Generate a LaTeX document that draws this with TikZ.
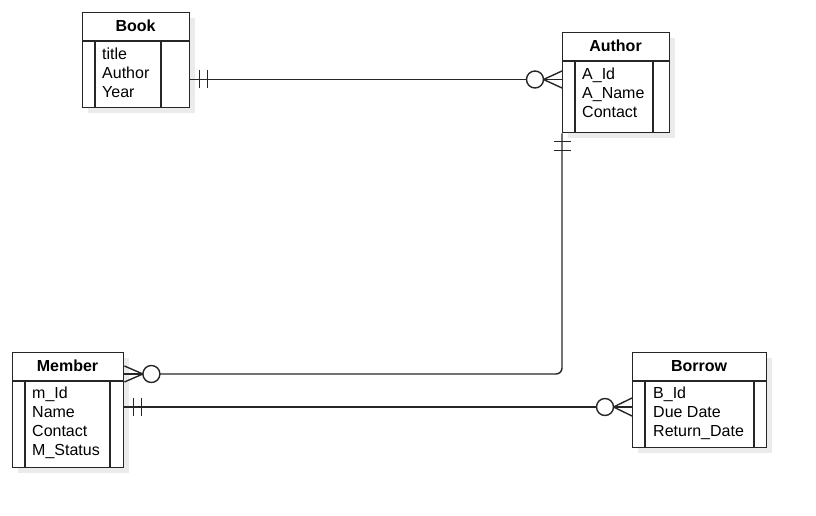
\documentclass[tikz,border=0pt]{standalone}
\usepackage{fontspec}
\setmainfont{Liberation Sans}
\begin{document}
\begin{tikzpicture}[x=1pt,y=1pt,
  ln/.style={line width=1.4pt, draw=black!85},
  ent/.style={ln, fill=white, rectangle, inner sep=0pt, anchor=north west},
  shad/.style={fill=black!8, draw=none},
  hdr/.style={font=\fontsize{16}{19}\selectfont\bfseries, inner sep=0pt},
  attr/.style={font=\fontsize{16}{19}\selectfont, align=left, anchor=west, inner sep=0pt}]
\useasboundingbox (0,0) rectangle (816,516);
% ---------- Book ----------
\fill[shad] (88,498) rectangle (195,403);
\node[ent, minimum width=107, minimum height=95] (book) at (82,504) {};
\draw[ln] (82,475) -- (189,475);
\draw[ln] (95,475) -- (95,409);
\draw[ln] (161,475) -- (161,409);
\node[hdr] (bookh) at (135.5,490.5) {Book};
\node[attr] (booka) at (102,443) {title\\Author\\Year};
% ---------- Author ----------
\fill[shad] (568,478) rectangle (675,378);
\node[ent, minimum width=107, minimum height=100] (author) at (562,484) {};
\draw[ln] (562,455) -- (669,455);
\draw[ln] (575,455) -- (575,384);
\draw[ln] (653,455) -- (653,384);
\node[hdr] (authorh) at (615.5,470) {Author};
\node[attr] (authora) at (582,423) {A\_Id\\A\_Name\\Contact};
% ---------- Member ----------
\fill[shad] (18,158) rectangle (129,43);
\node[ent, minimum width=111, minimum height=115] (member) at (12,164) {};
\draw[ln] (12,135) -- (123,135);
\draw[ln] (25,135) -- (25,49);
\draw[ln] (110,135) -- (110,49);
\node[hdr] (memberh) at (67.5,150) {Member};
\node[attr] (membera) at (32,93.5) {m\_Id\\Name\\Contact\\M\_Status};
% ---------- Borrow ----------
\fill[shad] (638,158) rectangle (772,63);
\node[ent, minimum width=134, minimum height=95] (borrow) at (632,164) {};
\draw[ln] (632,135) -- (766,135);
\draw[ln] (645,135) -- (645,69);
\draw[ln] (754,135) -- (754,69);
\node[hdr] (borrowh) at (699,150) {Borrow};
\node[attr] (borrowa) at (653,103) {B\_Id\\Due Date\\Return\_Date};
% ---------- Book -- Author (one and only one : zero or many) ----------
\coordinate (ba1) at (book.east |- 0,436.5);
\coordinate (ba2) at (author.west |- 0,436.5);
\draw[ln] (ba1) -- ([xshift=-35.5]ba2);
\draw[ln] ([xshift=-27]ba2) circle (8.5);
\draw[ln] ([xshift=-18.5]ba2) -- (ba2);
\draw[ln] ([xshift=-18.5]ba2) -- ([yshift=8.5]ba2);
\draw[ln] ([xshift=-18.5]ba2) -- ([yshift=-8.5]ba2);
\draw[ln] ([xshift=9,yshift=-9]ba1) -- ([xshift=9,yshift=9]ba1);
\draw[ln] ([xshift=17,yshift=-9]ba1) -- ([xshift=17,yshift=9]ba1);
% ---------- Author -- Member ----------
\coordinate (am1) at (author.south west);
\coordinate (am2) at (member.east |- 0,142);
\draw[ln, rounded corners=6] (am1) |- ([xshift=35.5]am2);
\draw[ln] ([xshift=27]am2) circle (8.5);
\draw[ln] ([xshift=18.5]am2) -- (am2);
\draw[ln] ([xshift=18.5]am2) -- ([yshift=8]am2);
\draw[ln] ([xshift=18.5]am2) -- ([yshift=-8]am2);
\draw[ln] ([xshift=-8,yshift=-8]am1) -- ([xshift=9,yshift=-8]am1);
\draw[ln] ([xshift=-8,yshift=-17]am1) -- ([xshift=9,yshift=-17]am1);
% ---------- Member -- Borrow ----------
\coordinate (mb1) at (member.east |- 0,109);
\coordinate (mb2) at (borrow.west |- 0,109);
\draw[ln] (mb1) -- ([xshift=-35.5]mb2);
\draw[ln] ([xshift=-27]mb2) circle (8.5);
\draw[ln] ([xshift=-18.5]mb2) -- (mb2);
\draw[ln] ([xshift=-18.5]mb2) -- ([yshift=9]mb2);
\draw[ln] ([xshift=-18.5]mb2) -- ([yshift=-9]mb2);
\draw[ln] ([xshift=9,yshift=-9]mb1) -- ([xshift=9,yshift=9]mb1);
\draw[ln] ([xshift=17,yshift=-9]mb1) -- ([xshift=17,yshift=9]mb1);
\end{tikzpicture}
\end{document}
